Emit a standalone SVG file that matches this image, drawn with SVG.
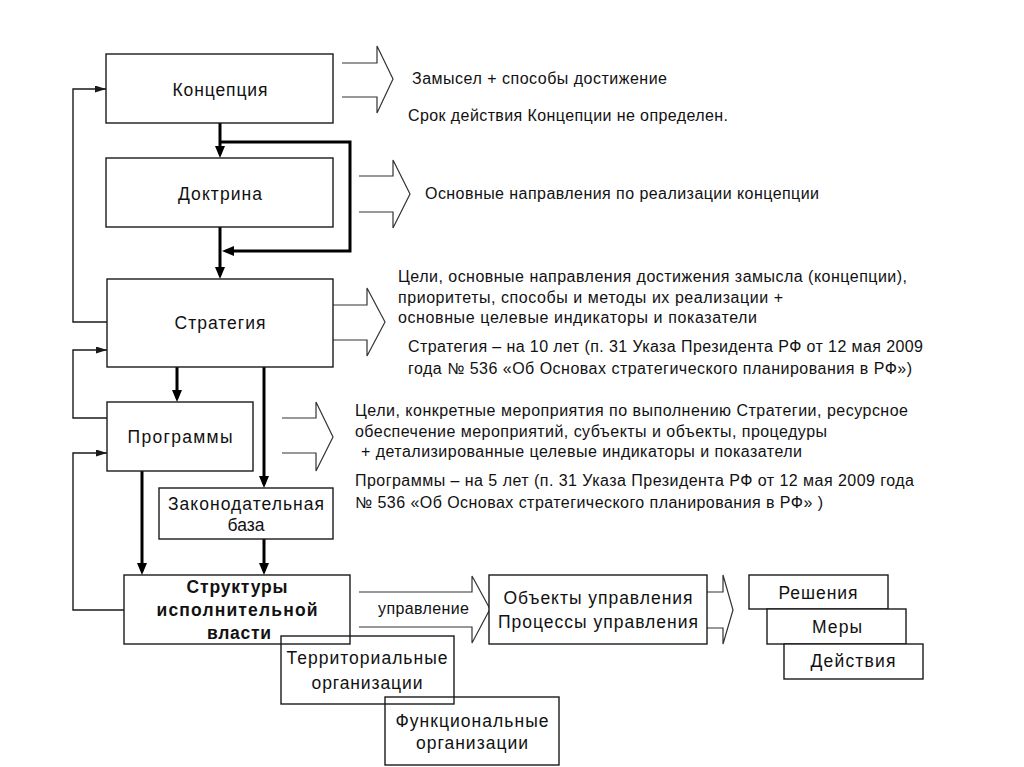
<svg xmlns="http://www.w3.org/2000/svg" width="1024" height="767" viewBox="0 0 1024 767">
<style>
.box{fill:#fff;stroke:#1a1a1a;stroke-width:1.4}
.ov{fill:none;stroke:#1a1a1a;stroke-width:1.4}
.t{font-family:"Liberation Sans",Arial,sans-serif;font-size:16px;fill:#111}
.L{font-size:17.5px}
.c{text-anchor:middle}
.b{font-weight:bold}
.thick{fill:none;stroke:#000;stroke-width:3}
.thin{fill:none;stroke:#1a1a1a;stroke-width:1.4}
.hollow{fill:none;stroke:#333;stroke-width:1.2;stroke-linejoin:miter}
</style>
<defs>
<marker id="ah" markerUnits="userSpaceOnUse" markerWidth="12" markerHeight="10" refX="8" refY="5" orient="auto"><path d="M0,0 L12,5 L0,10 z" fill="#000"/></marker>
<marker id="ahs" markerUnits="userSpaceOnUse" markerWidth="11" markerHeight="8" refX="11" refY="3.5" orient="auto"><path d="M0,0 L11,3.5 L0,7 z" fill="#1a1a1a"/></marker>
</defs>
<rect width="1024" height="767" fill="#fff"/>

<g id="connectors">
<path class="hollow" d="M342,63 H377 V46 L393,79 L377,113 V97 H342"/>
<path class="hollow" d="M359,176 H393 V160 L410,194 L393,228 V212 H359"/>
<path class="hollow" d="M333,305 H367 V288 L385,322 L367,356 V340 H333"/>
<path class="hollow" d="M282,418 H316 V402 L333,437 L316,471 V453 H282"/>
<path class="hollow" d="M359,592 H472 V576 L490,609 L472,643 V627 H359"/>
<path class="hollow" d="M707,592 H723 V575 L733,610 L723,644 V628 H707"/>
<path class="thick" d="M220,123 V154" marker-end="url(#ah)"/>
<path class="thick" d="M220,142 H350 V251 H226" marker-end="url(#ah)"/>
<path class="thick" d="M220,227 V275" marker-end="url(#ah)"/>
<path class="thick" d="M177,367 V398" marker-end="url(#ah)"/>
<path class="thick" d="M264,367 V484" marker-end="url(#ah)"/>
<path class="thick" d="M142,471 V571" marker-end="url(#ah)"/>
<path class="thick" d="M264,539 V571" marker-end="url(#ah)"/>
<path class="thin" d="M107,322 H73 V89 H106" marker-end="url(#ahs)"/>
<path class="thin" d="M107,418 H73 V350 H107" marker-end="url(#ahs)"/>
<path class="thin" d="M124,610 H73 V453 H107" marker-end="url(#ahs)"/>
<text class="t" x="378" y="614" font-size="15" textLength="91">управление</text>
</g>

<g id="koncepciya"><rect class="box" x="106" y="54" width="227" height="69"/><text class="t L c" x="220" y="96" textLength="95">Концепция</text></g>
<g id="doktrina"><rect class="box" x="106" y="158" width="227" height="69"/><text class="t L c" x="220" y="200" textLength="84">Доктрина</text></g>
<g id="strategiya"><rect class="box" x="107" y="279" width="226" height="88"/><text class="t L c" x="220" y="329" textLength="91">Стратегия</text></g>
<g id="programmy"><rect class="box" x="107" y="402" width="146" height="69"/><text class="t L c" x="180" y="443" textLength="105">Программы</text></g>
<g id="zakon"><rect class="box" x="159" y="488" width="174" height="51"/><text class="t L c" x="246" y="510" textLength="156">Законодательная</text><text class="t L c" x="246" y="531">база</text></g>
<g id="struktury"><rect class="box" x="124" y="575" width="226" height="69"/><text class="t L c b" x="237" y="593" textLength="101">Структуры</text><text class="t L c b" x="237" y="616" textLength="161">исполнительной</text><text class="t L c b" x="239" y="639" textLength="64">власти</text></g>
<g id="territ"><rect class="ov" x="281" y="636" width="173" height="68"/><text class="t L c" x="367" y="664" textLength="161">Территориальные</text><text class="t L c" x="367" y="689" textLength="111">организации</text></g>
<g id="funkc"><rect class="ov" x="385" y="697" width="174" height="68"/><text class="t L c" x="472" y="727" textLength="153">Функциональные</text><text class="t L c" x="472" y="749" textLength="112">организации</text></g>
<g id="objects"><rect class="box" x="489" y="575" width="218" height="69"/><text class="t L c" x="598" y="604" textLength="189">Объекты управления</text><text class="t L c" x="598" y="628" textLength="200">Процессы управления</text></g>
<g id="resheniya"><rect class="box" x="749" y="575" width="139" height="34"/><text class="t L c" x="818" y="599" textLength="79">Решения</text></g>
<g id="mery"><rect class="box" x="767" y="609" width="139" height="35"/><text class="t L c" x="837" y="633" textLength="50">Меры</text></g>
<g id="deistviya"><rect class="box" x="784" y="644" width="139" height="35"/><text class="t L c" x="853" y="667" textLength="85">Действия</text></g>

<g id="notes">
<text class="t" x="412" y="84" textLength="255">Замысел + способы достижение</text>
<text class="t" x="408" y="121" textLength="320">Срок действия Концепции не определен.</text>
<text class="t" x="425" y="199" textLength="394">Основные направления по реализации концепции</text>
<text class="t" x="398" y="282" textLength="509">Цели, основные направления достижения замысла (концепции),</text>
<text class="t" x="398" y="303" textLength="385">приоритеты, способы и методы их реализации +</text>
<text class="t" x="398" y="323" textLength="359">основные целевые индикаторы и показатели</text>
<text class="t" x="408" y="352" textLength="515">Стратегия – на 10 лет (п. 31 Указа Президента РФ от 12 мая 2009</text>
<text class="t" x="408" y="374" textLength="504">года № 536 «Об Основах стратегического планирования в РФ»)</text>
<text class="t" x="355" y="416" textLength="553">Цели, конкретные мероприятия по выполнению Стратегии, ресурсное</text>
<text class="t" x="355" y="437" textLength="472">обеспечение мероприятий, субъекты и объекты, процедуры</text>
<text class="t" x="361" y="457" textLength="441">+ детализированные целевые индикаторы и показатели</text>
<text class="t" x="355" y="486" textLength="559">Программы – на 5 лет (п. 31 Указа Президента РФ от 12 мая 2009 года</text>
<text class="t" x="355" y="508" textLength="468">№ 536 «Об Основах стратегического планирования в РФ» )</text>
</g>
</svg>
